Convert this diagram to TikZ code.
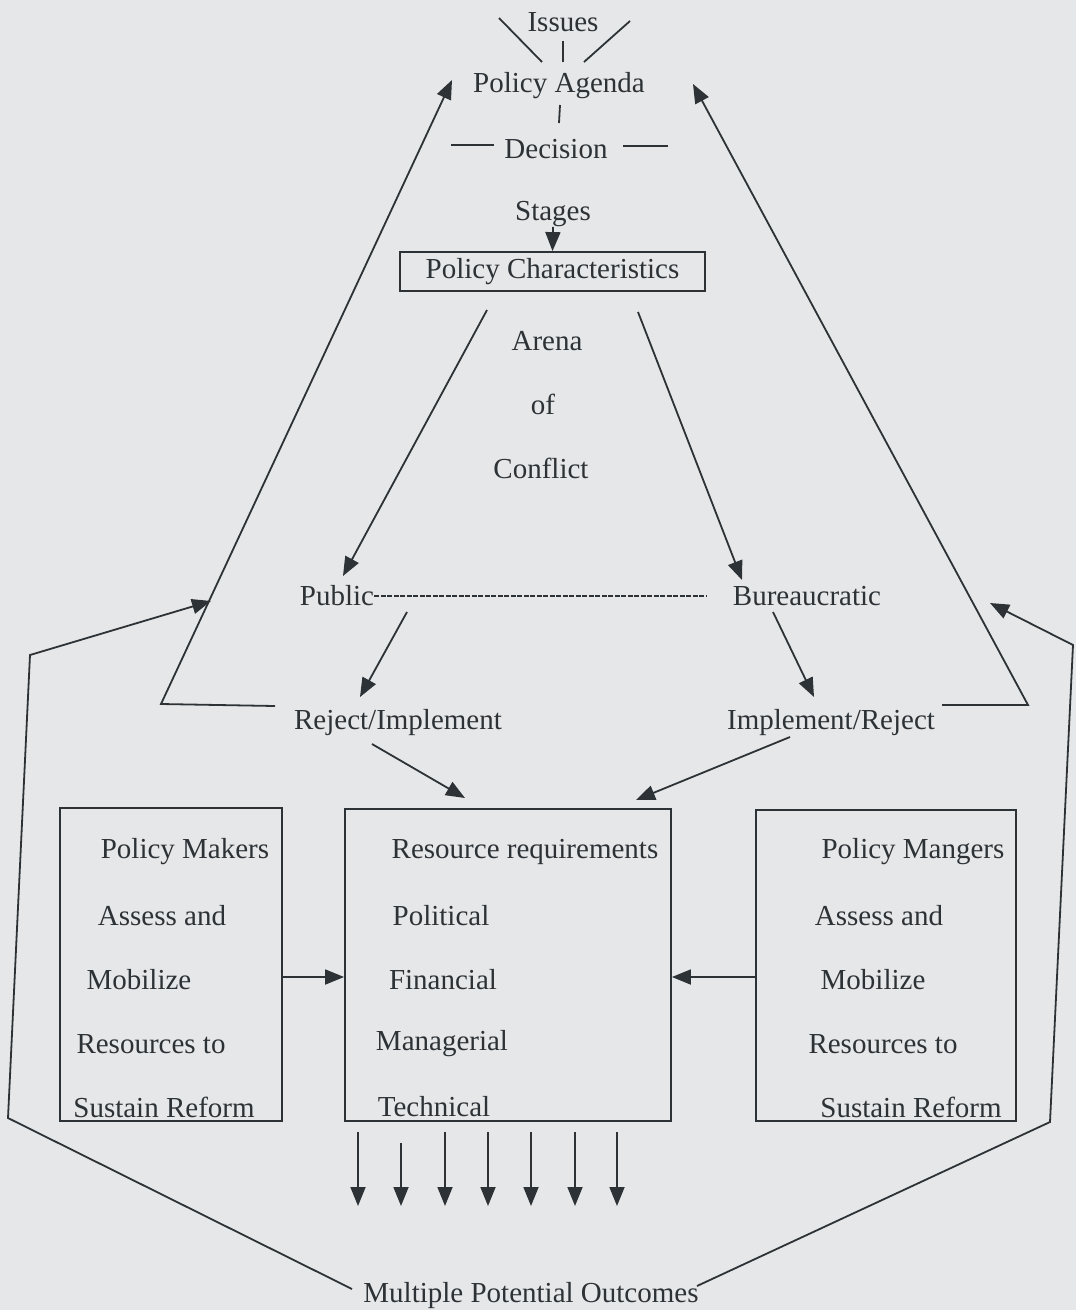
\documentclass[tikz,border=0pt]{standalone}
\usepackage{fontspec}
\setmainfont{Liberation Serif}
\usetikzlibrary{arrows.meta}
\definecolor{paper}{HTML}{E6E7E9}
\definecolor{ink}{HTML}{2C3236}
\begin{document}
\begin{tikzpicture}[x=1pt,y=-1pt,
  lbl/.style={font=\fontsize{29}{34}\selectfont, text=ink, inner sep=0pt, yshift=-3pt},
  ln/.style={draw=ink, line width=1.8pt},
  arr/.style={ln, -{Triangle[length=19pt,width=15pt]}},
  boxed/.style={ln, fill=none}]
\useasboundingbox (0,0) rectangle (1076,1310);
\fill[paper] (0,0) rectangle (1076,1310);

% top texts
\node[lbl] (issues) at (563,19) {Issues};
\node[lbl] (agenda) at (559,83) {Policy Agenda};
\node[lbl] (decision) at (556,146) {Decision};
\node[lbl] (stages) at (553,211) {Stages};
\node[lbl, boxed, yshift=3pt, minimum width=305pt, minimum height=39pt] (pc) at (552.5,271.5) {Policy Characteristics};
\node[lbl] (arena) at (547,338) {Arena};
\node[lbl] (of) at (543,401) {of};
\node[lbl] (conflict) at (541,465) {Conflict};
\node[lbl] (public) at (337,593) {Public};
\node[lbl] (bureau) at (807,593) {Bureaucratic};
\node[lbl] (rejimp) at (398,720) {Reject/Implement};
\node[lbl] (imprej) at (831,720) {Implement/Reject};
\node[lbl] (outcomes) at (531,1293) {Multiple Potential Outcomes};

% boxes
\node[boxed, minimum width=222pt, minimum height=313pt, inner sep=0pt] (lbox) at (171,964.5) {};
\node[boxed, minimum width=326pt, minimum height=312pt, inner sep=0pt] (rbox) at (508,965) {};
\node[boxed, minimum width=260pt, minimum height=311pt, inner sep=0pt] (mbox) at (886,965.5) {};

% left box text
\node[lbl] (lt1) at (185,849) {Policy Makers};
\node[lbl] (lt2) at (162,913) {Assess and};
\node[lbl] (lt3) at (139,977) {Mobilize};
\node[lbl] (lt4) at (151,1041) {Resources to};
\node[lbl] (lt5) at (164,1104) {Sustain Reform};
% resource box text
\node[lbl] (rt1) at (525,849) {Resource requirements};
\node[lbl] (rt2) at (441,913) {Political};
\node[lbl] (rt3) at (443,977) {Financial};
\node[lbl] (rt4) at (442,1041) {Managerial};
\node[lbl] (rt5) at (434,1104) {Technical};
% right box text
\node[lbl] (mt1) at (913,849) {Policy Mangers};
\node[lbl] (mt2) at (879,913) {Assess and};
\node[lbl] (mt3) at (873,977) {Mobilize};
\node[lbl] (mt4) at (883,1041) {Resources to};
\node[lbl] (mt5) at (911,1104) {Sustain Reform};

% issue rays
\coordinate (i1a) at (499,18); \coordinate (i1b) at (542,62);
\coordinate (i2a) at (563,41); \coordinate (i2b) at (563,62);
\coordinate (i3a) at (630,21); \coordinate (i3b) at (584,62);
\draw[ln] (i1a) -- (i1b);
\draw[ln] (i2a) -- (i2b);
\draw[ln] (i3a) -- (i3b);
\coordinate (av1) at (560,105); \coordinate (av2) at (559,123);
\draw[ln] (av1) -- (av2);
\coordinate (dl1) at (451,145); \coordinate (dl2) at (494,145);
\coordinate (dr1) at (623,146); \coordinate (dr2) at (668,146);
\draw[ln] (dl1) -- (dl2);
\draw[ln] (dr1) -- (dr2);

% stages to box
\draw[arr] (stages.south) -- (pc.north);

% arena arrows
\coordinate (al0) at (487,310); \coordinate (al1) at (343,576);
\coordinate (ar0) at (638,312); \coordinate (ar1) at (742,580);
\draw[arr] (al0) -- (al1);
\draw[arr] (ar0) -- (ar1);

% dashed line
\draw[draw=ink, line width=1.6pt, dash pattern=on 5pt off 1.5pt] (public.east) -- (706,596);

% public / bureaucratic to reject/implement
\coordinate (p0) at (407,612); \coordinate (p1) at (360,697);
\coordinate (b0) at (773,612); \coordinate (b1) at (814,697);
\draw[arr] (p0) -- (p1);
\draw[arr] (b0) -- (b1);

% big feedback triangles
\coordinate (tl0) at (275,706); \coordinate (tl1) at (161,704); \coordinate (tl2) at (452,80);
\coordinate (tr0) at (942,705); \coordinate (tr1) at (1028,705); \coordinate (tr2) at (693,84);
\draw[arr] (tl0) -- (tl1) -- (tl2);
\draw[arr] (tr0) -- (tr1) -- (tr2);

% to resource box
\coordinate (rj0) at (372,744); \coordinate (rj1) at (465,798);
\coordinate (ir0) at (790,737); \coordinate (ir1) at (636,800);
\draw[arr] (rj0) -- (rj1);
\draw[arr] (ir0) -- (ir1);

% side arrows
\draw[arr] (lbox.east |- 0,977) -- (rbox.west |- 0,977);
\draw[arr] (mbox.west |- 0,977) -- (rbox.east |- 0,977);

% outcome arrows
\foreach \x/\t in {358/1132, 401/1143, 445/1132, 488/1132, 531/1132, 575/1132, 617/1132}
  \draw[arr] (\x,\t) -- (\x,1206);

% outer loops
\coordinate (ll0) at (352,1289); \coordinate (ll1) at (8,1118);
\coordinate (ll2) at (30,655); \coordinate (ll3) at (211,601);
\draw[arr] (ll0) -- (ll1) -- (ll2) -- (ll3);
\coordinate (rl0) at (697,1286); \coordinate (rl1) at (1050,1122);
\coordinate (rl2) at (1073,645); \coordinate (rl3) at (990,603);
\draw[arr] (rl0) -- (rl1) -- (rl2) -- (rl3);
\end{tikzpicture}
\end{document}
